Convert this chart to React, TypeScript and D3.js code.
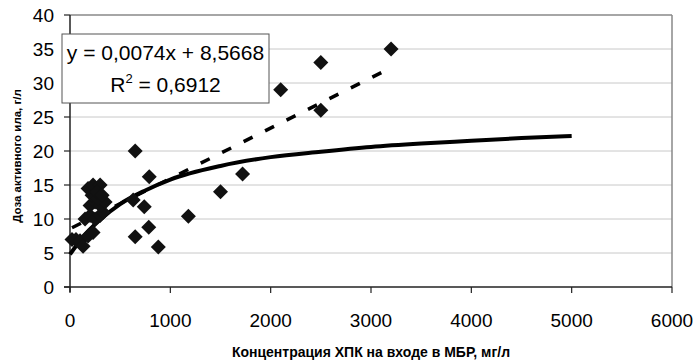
import React from "react";
import * as d3 from "d3";

const pointsX = [20, 60, 100, 130, 180, 230, 150, 200, 250, 300, 330, 200, 250, 300, 350, 220, 280, 180, 230, 300, 270, 320,
  650, 790, 1720, 1500, 630, 740, 1180, 785, 650, 880, 3200, 2500, 2100, 2500];
const pointsY = [7, 7, 6.8, 6, 7.5, 8, 10, 10.5, 10, 10.5, 11, 12, 12.5, 12, 12.5, 13.5, 13, 14.5, 15, 15, 14, 13.5,
  20, 16.2, 16.6, 14.0, 12.8, 11.8, 10.4, 8.8, 7.4, 5.9, 35, 33, 29, 26];

const curveX = [0, 100, 200, 300, 500, 750, 1000, 1500, 2000, 2500, 3000, 3500, 4000, 4500, 5000];
const curveY = [4.8, 6.8, 8.5, 9.9, 12.2, 14.2, 15.8, 17.8, 19.1, 19.9, 20.6, 21.1, 21.5, 21.9, 22.2];

const trendSlope = 0.0074;
const trendIntercept = 8.5668;
const trendRange = [20, 3200];

const xTicks = [0, 1000, 2000, 3000, 4000, 5000, 6000];
const yTicks = [0, 5, 10, 15, 20, 25, 30, 35, 40];

const equationText = "y = 0,0074x + 8,5668";
const r2Value = "0,6912";
const xTitle = "Концентрация ХПК на входе в МБР, мг/л";
const yTitle = "Доза активного ила, г/л";

export default function App() {
  const W = 697, H = 360;
  const left = 70, right = 672, top = 15, bottom = 287;
  const x = d3.scaleLinear().domain([0, 6000]).range([left, right]);
  const y = d3.scaleLinear().domain([0, 40]).range([bottom, top]);

  const curvePts = curveX.map((v, i) => [v, curveY[i]] as [number, number]);
  const curvePath = d3.line<[number, number]>().x(d => x(d[0])).y(d => y(d[1])).curve(d3.curveMonotoneX)(curvePts) || "";
  const trendPts = trendRange.map(v => [v, trendSlope * v + trendIntercept] as [number, number]);
  const trendPath = d3.line<[number, number]>().x(d => x(d[0])).y(d => y(d[1]))(trendPts) || "";
  const font = "'Liberation Sans', Arial, sans-serif";
  const r = 7.5;

  return (
    <svg width={W} height={H} style={{ position: "absolute", left: 0, top: 0, background: "#fff" }}>
      {yTicks.slice(1).map(t => (
        <line key={"g" + t} x1={left} x2={right} y1={y(t)} y2={y(t)} stroke={t === 40 ? "#888" : "#c8c8c8"} strokeWidth={t === 40 ? 1.5 : 1} />
      ))}
      <line x1={right} x2={right} y1={top} y2={bottom} stroke="#888" strokeWidth={1.5} />
      <line x1={left} x2={left} y1={top} y2={bottom + 5} stroke="#222" strokeWidth={1.5} />
      <line x1={left - 6} x2={right} y1={bottom} y2={bottom} stroke="#222" strokeWidth={1.5} />
      {yTicks.map(t => (
        <g key={"yt" + t}>
          <line x1={left - 6} x2={left} y1={y(t)} y2={y(t)} stroke="#222" strokeWidth={1.2} />
          <text x={left - 16} y={y(t)} dy="0.36em" textAnchor="end" fontFamily={font} fontSize={19} fill="#000">{t}</text>
        </g>
      ))}
      {xTicks.map(t => (
        <g key={"xt" + t}>
          <line x1={x(t)} x2={x(t)} y1={bottom} y2={bottom + 6} stroke="#222" strokeWidth={1.2} />
          <text x={x(t)} y={bottom + 40} textAnchor="middle" fontFamily={font} fontSize={19} fill="#000">{t}</text>
        </g>
      ))}
      <path d={curvePath} fill="none" stroke="#000" strokeWidth={4} />
      <path d={trendPath} fill="none" stroke="#000" strokeWidth={3.5} strokeDasharray="10,14" />
      {pointsX.map((v, i) => (
        <path key={"p" + i} d={`M${x(v)},${y(pointsY[i]) - r}L${x(v) + r},${y(pointsY[i])}L${x(v)},${y(pointsY[i]) + r}L${x(v) - r},${y(pointsY[i])}Z`} fill="#111" />
      ))}
      <rect x={62} y={34} width={207} height={69} fill="#fff" stroke="#555" strokeWidth={1} />
      <text x={165.5} y={60} textAnchor="middle" fontFamily={font} fontSize={21} fill="#000">{equationText}</text>
      <text x={165.5} y={92} textAnchor="middle" fontFamily={font} fontSize={21} fill="#000">
        R<tspan dy={-9} fontSize={13}>2</tspan><tspan dy={9}> = {r2Value}</tspan>
      </text>
      <text x={371} y={357} textAnchor="middle" fontFamily={font} fontSize={14} fontWeight="bold" fill="#000">{xTitle}</text>
      <text transform={`translate(21,156) rotate(-90)`} textAnchor="middle" fontFamily={font} fontSize={11.5} fontWeight="bold" fill="#000">{yTitle}</text>
    </svg>
  );
}
